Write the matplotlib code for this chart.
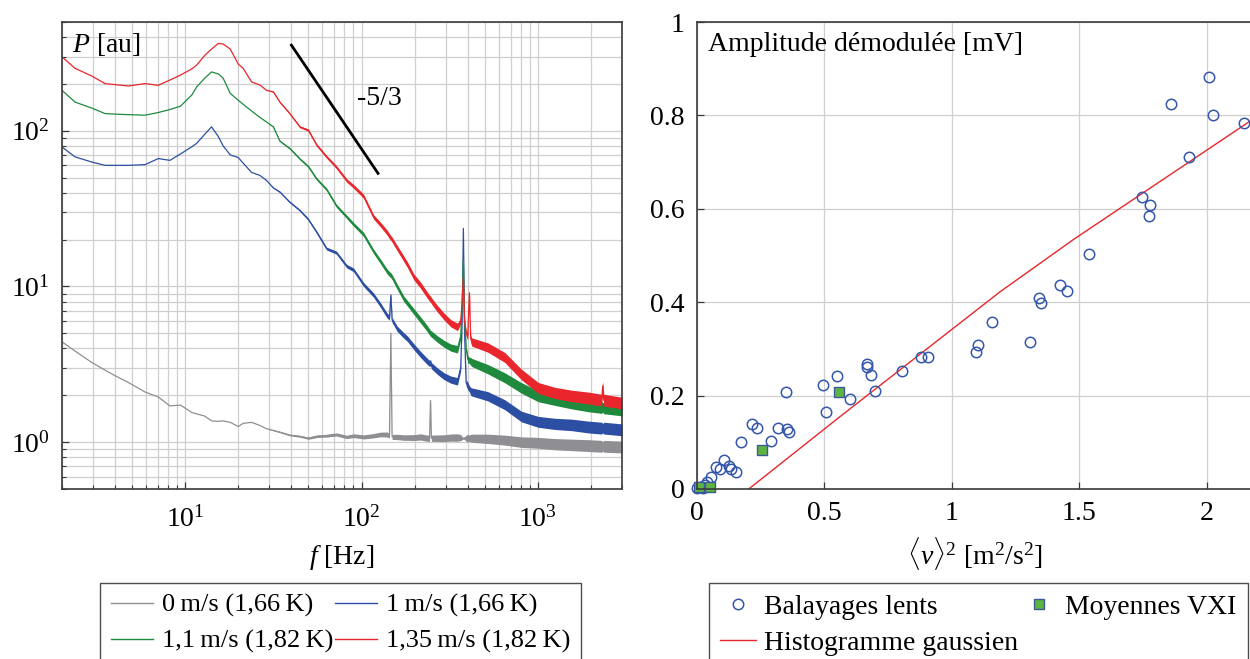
import numpy as np
import matplotlib
matplotlib.use('Agg')
import matplotlib.pyplot as plt
from matplotlib.lines import Line2D
from matplotlib.ticker import LogLocator, NullFormatter

plt.rcParams['font.family'] = ['Liberation Serif', 'DejaVu Serif']
plt.rcParams['mathtext.fontset'] = 'custom'
plt.rcParams['mathtext.rm'] = 'Liberation Serif'
plt.rcParams['mathtext.it'] = 'Liberation Serif:italic'
plt.rcParams['mathtext.bf'] = 'Liberation Serif:bold'

# ---------------- data: spectra (left) ----------------
freq = [2, 2.37, 2.95, 3.51, 4.0, 4.75, 5.91, 7.03, 8.19, 9.4,
        10.9, 11.6, 12.9, 14.1, 15.4, 16.4, 18.0, 20.0, 21.3, 23.8,
        26.5, 28.9, 31.6, 34.4, 39.2, 44.7, 49.9, 55.7, 63.4, 72,
        82.4, 90, 102.7, 117, 128, 139.6, 144, 146.6, 149, 159,
        174, 182, 198, 216, 236, 243, 246, 249, 269, 294,
        321, 350, 365, 372, 378, 384, 392, 400, 409, 416,
        422, 521, 649, 807, 1005, 1251, 1556, 1941, 2300, 2333,
        2366, 3000]

p_red = [299, 252, 225, 201, 198, 194, 201, 196, 212, 228,
         250, 264, 305, 335, 364, 361, 335, 268, 252, 206,
         197, 182, 178, 153, 129, 106, 101, 81, 68, 58.5,
         48, 44, 38, 28, 25, 22.2, 21, 20.5, 20, 17.7,
         15, 13.8, 11.5, 10.2, 8.8, 8.4, 8.3, 8.1, 7.2, 6.4,
         5.8, 5.5, 6.0, 8.0, 11.5, 6.0, 5.0, 4.8, 9.1, 4.6,
         4.4, 4.05, 3.5, 2.72, 2.23, 2.07, 1.98, 1.92, 1.86, 2.3,
         1.86, 1.78]

p_green = [182, 153, 140, 129, 128, 127, 126, 131, 137, 144,
           170, 191, 218, 239, 232, 218, 174, 157, 148, 134,
           122, 114, 106, 86, 77, 66, 59, 49, 42, 33,
           28, 25.1, 21.6, 16.8, 14.5, 12.5, 12, 11.8, 11.5, 10,
           8.3, 7.8, 6.9, 6.1, 5.36, 5.1, 5.0, 4.95, 4.6, 4.28,
           4.05, 3.95, 4.8, 7.5, 14.9, 6, 4, 3.41, 3.35, 3.3,
           3.25, 2.94, 2.59, 2.23, 1.97, 1.87, 1.78, 1.71, 1.67, 1.67,
           1.66, 1.61]

p_blue = [78.7, 68, 63, 60, 60, 60, 60.6, 66.3, 64.6, 71,
          79, 83, 95, 106, 92, 80, 70, 67.3, 62, 54,
          51.7, 48, 43, 40.5, 34.8, 30.8, 27, 22.3, 17.5, 16.5,
          13.5, 12.8, 10.3, 8.8, 7.6, 6.5, 6.3, 8.8, 6.1, 5.36,
          4.83, 4.62, 4.1, 3.66, 3.3, 3.2, 3.25, 3.1, 2.86, 2.65,
          2.52, 2.46, 3.0, 6, 23.6, 5, 2.4, 2.3, 2.2, 2.12,
          2.1, 1.97, 1.74, 1.46, 1.35, 1.31, 1.29, 1.25, 1.23, 1.23,
          1.23, 1.20]

p_gray = [4.41, 3.85, 3.25, 2.9, 2.67, 2.42, 2.10, 1.95, 1.71, 1.73,
          1.55, 1.52, 1.47, 1.37, 1.36, 1.37, 1.34, 1.26, 1.32, 1.34,
          1.28, 1.22, 1.19, 1.16, 1.11, 1.09, 1.06, 1.09, 1.10, 1.12,
          1.08, 1.10, 1.08, 1.10, 1.12, 1.12, 1.10, 5.0, 1.08, 1.08,
          1.07, 1.07, 1.07, 1.08, 1.06, 1.06, 1.85, 1.06, 1.06, 1.06,
          1.07, 1.07, 1.07, 1.06, 1.06, 1.06, 1.06, 1.06, 1.06, 1.06,
          1.06, 1.05, 1.03, 1.00, 0.99, 0.97, 0.96, 0.95, 0.94, 0.94,
          0.94, 0.93]

# half-width (log10) of the noise band
spread = [0, 0, 0, 0, 0, 0, 0, 0, 0, 0,
          0, 0, 0, 0, 0, 0, 0, 0, 0, 0,
          0, 0, 0.003, 0.004, 0.005, 0.006, 0.007, 0.008, 0.009, 0.01,
          0.011, 0.012, 0.013, 0.014, 0.015, 0.016, 0.016, 0.016, 0.016, 0.017,
          0.018, 0.018, 0.019, 0.02, 0.02, 0.02, 0.02, 0.02, 0.021, 0.022,
          0.023, 0.024, 0.02, 0.01, 0.005, 0.01, 0.02, 0.025, 0.02, 0.025,
          0.026, 0.03, 0.032, 0.034, 0.035, 0.036, 0.037, 0.038, 0.038, 0.03,
          0.038, 0.038]

slope_f = [40, 124]
slope_p = [355, 53.3]

spec_labels = ['0\u2009m/s (1,66\u2009K)', '1\u2009m/s (1,66\u2009K)',
               '1,1\u2009m/s (1,82\u2009K)', '1,35\u2009m/s (1,82\u2009K)']

# ---------------- data: scatter (right) ----------------
bal_v2 = [0.349, 0.493, 0.549, 0.601, 0.506, 0.216, 0.236, 0.171, 0.289, 0.319,
          0.352, 0.362, 0.106, 0.0745, 0.090, 0.127, 0.135, 0.152, 0.056, 0.040,
          0.031, 0.025, 0.001, 0.012, 0.699, 0.665, 0.665, 0.682, 0.803, 0.877,
          0.907, 1.095, 1.103, 1.159, 1.306, 1.341, 1.348, 1.424, 1.452, 1.537,
          1.744, 1.776, 1.771, 1.931, 1.859, 2.008, 2.024, 2.144]
bal_amp = [0.2075, 0.2225, 0.242, 0.193, 0.1645, 0.1395, 0.1315, 0.1015, 0.102, 0.131,
           0.128, 0.1215, 0.0615, 0.048, 0.043, 0.049, 0.042, 0.036, 0.025, 0.0157,
           0.008, 0.0015, 0.0015, 0.005, 0.209, 0.2667, 0.261, 0.2446, 0.253, 0.283,
           0.2826, 0.2925, 0.309, 0.3577, 0.3148, 0.409, 0.399, 0.4378, 0.425, 0.504,
           0.626, 0.608, 0.584, 0.711, 0.824, 0.883, 0.801, 0.783]

vxi_v2 = [0.009, 0.052, 0.255, 0.557]
vxi_amp = [0.004, 0.004, 0.0837, 0.208]

gauss_v2 = [0.203, 0.561, 1.188, 1.476, 2.17]
gauss_amp = [0.0, 0.155, 0.422, 0.534, 0.788]

# ---------------- figure ----------------
W, H = 1250, 659
fig = plt.figure(figsize=(12.5, 6.59), dpi=100)
ax1 = fig.add_axes([62 / W, 1 - 489 / H, 560 / W, 467 / H])
ax2 = fig.add_axes([697 / W, 1 - 489 / H, 553 / W, 467 / H])

FS = 20
c_gray, c_blue, c_green, c_red = '#8f8f93', '#2d4fa3', '#1f8a3e', '#e8262b'
grid_c = '#cfcfcf'
spine_c = '#3a3a3a'

fr = np.array(freq)
sp = 10 ** np.array(spread)
for vals, col in [(p_gray, c_gray), (p_blue, c_blue), (p_green, c_green), (p_red, c_red)]:
    v = np.array(vals)
    ax1.fill_between(fr, v / sp, v * sp, color=col, lw=0)
    ax1.plot(fr, v, color=col, lw=0.9)

ax1.plot(slope_f, slope_p, color='black', lw=2)
ax1.text(94, 162, '-5/3', fontsize=FS, ha='left', va='center')

ax1.set_xscale('log')
ax1.set_yscale('log')
ax1.set_xlim(2, 3000)
ax1.set_ylim(0.5, 500)
ax1.set_xticks([10, 100, 1000])
ax1.set_xticklabels([r'$10^{1}$', r'$10^{2}$', r'$10^{3}$'])
ax1.set_yticks([1, 10, 100])
ax1.set_yticklabels([r'$10^{0}$', r'$10^{1}$', r'$10^{2}$'])
ax1.xaxis.set_minor_locator(LogLocator(base=10, subs=np.arange(2, 10), numticks=20))
ax1.yaxis.set_minor_locator(LogLocator(base=10, subs=np.arange(2, 10), numticks=20))
ax1.xaxis.set_minor_formatter(NullFormatter())
ax1.yaxis.set_minor_formatter(NullFormatter())
ax1.grid(True, which='both', color=grid_c, lw=0.9)
ax1.set_axisbelow(True)
ax1.text(0.018, 0.951, r'$P$ [au]', transform=ax1.transAxes, fontsize=FS,
         ha='left', va='center')

ax2.plot(gauss_v2, gauss_amp, color=c_red, lw=1.0)
ax2.plot(bal_v2, bal_amp, 'o', ls='none', mfc='none', mec='#3557ab', ms=7.5, mew=1.1,
         clip_on=False)
ax2.plot(vxi_v2, vxi_amp, 's', ls='none', mfc='#5db441', mec='#3a5a9a', ms=7.5, mew=1.0,
         clip_on=False)
ax2.set_xlim(0, 2.169)
ax2.set_ylim(0, 1)
ax2.set_xticks([0, 0.5, 1, 1.5, 2])
ax2.set_xticklabels(['0', '0.5', '1', '1.5', '2'])
ax2.set_yticks([0, 0.2, 0.4, 0.6, 0.8, 1])
ax2.set_yticklabels(['0', '0.2', '0.4', '0.6', '0.8', '1'])
ax2.grid(True, which='major', color=grid_c, lw=0.9)
ax2.set_axisbelow(True)
ax2.spines['right'].set_visible(False)
ax2.text(0.02, 0.951, 'Amplitude démodulée [mV]', transform=ax2.transAxes,
         fontsize=FS, ha='left', va='center')

for ax in (ax1, ax2):
    ax.tick_params(which='both', direction='in', color=spine_c, labelsize=FS, pad=9)
    ax.tick_params(which='major', length=5, width=0.9)
    ax.tick_params(which='minor', length=3, width=0.8)
    for s in ax.spines.values():
        s.set_color(spine_c)
        s.set_linewidth(1.2)
ax1.tick_params(axis='x', which='both', pad=12)

fig.text(342 / W, 1 - 557 / H, r'$f$ [Hz]', fontsize=FS, ha='center', va='center')
fig.text(975 / W, 1 - 553 / H, r'$\langle v\rangle^2$ [m$^2$/s$^2$]', fontsize=FS,
         ha='center', va='center')

# legends
h_spec = [Line2D([], [], color=c, lw=1.0) for c in (c_gray, c_green, c_blue, c_red)]
lab_spec = [spec_labels[0], spec_labels[2], spec_labels[1], spec_labels[3]]
leg1 = fig.legend(h_spec, lab_spec, ncol=2, loc='upper left',
                  bbox_to_anchor=(100 / W, 1 - 583 / H), borderaxespad=0,
                  fontsize=19, frameon=True, fancybox=False, handlelength=1.6,
                  handletextpad=0.35, columnspacing=0.05, labelspacing=0.45,
                  borderpad=0.4)
leg1.get_frame().set_edgecolor('#222222')
leg1.get_frame().set_linewidth(1.0)

h_sc = [Line2D([], [], marker='o', ls='none', mfc='none', mec='#3557ab', ms=7.5, mew=1.1),
        Line2D([], [], color=c_red, lw=1.0),
        Line2D([], [], marker='s', ls='none', mfc='#5db441', mec='#3a5a9a', ms=7.5, mew=1.0)]
lab_sc = ['Balayages lents', 'Histogramme gaussien', 'Moyennes VXI']
leg2 = fig.legend(h_sc, lab_sc, ncol=2, loc='upper left',
                  bbox_to_anchor=(708.5 / W, 1 - 583 / H), borderaxespad=0,
                  fontsize=FS, frameon=True, fancybox=False, handlelength=1.3,
                  handletextpad=0.3, columnspacing=0.1, labelspacing=0.4,
                  borderpad=0.4)
leg2.get_frame().set_edgecolor('#222222')
leg2.get_frame().set_linewidth(1.0)

fig.savefig('out.png', dpi=100)
